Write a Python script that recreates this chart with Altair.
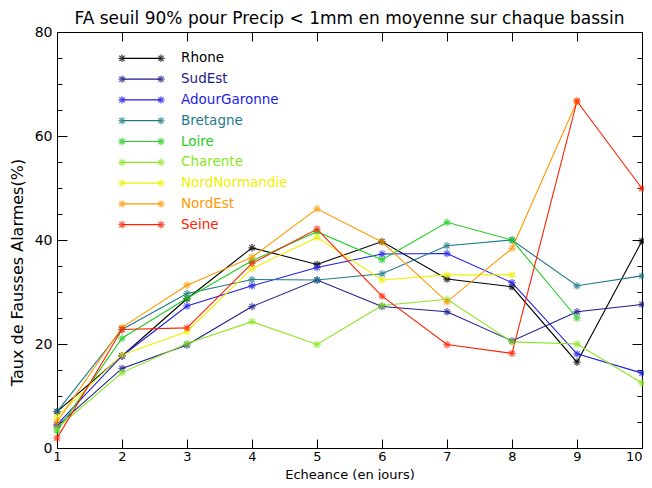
import altair as alt
import pandas as pd

# ---------------- data ----------------
names = ["Rhone", "SudEst", "AdourGaronne", "Bretagne", "Loire",
         "Charente", "NordNormandie", "NordEst", "Seine"]
colors = ["#000000", "#1c1c8c", "#1e1ee8", "#1f7a8a", "#22cc22",
          "#88e61c", "#f0f000", "#ff9a00", "#ff2000"]
echeance = [1, 2, 3, 4, 5, 6, 7, 8, 9, 10]
title_text = "FA seuil 90% pour Precip < 1mm en moyenne sur chaque bassin"

rhone = [7.0, 17.7, 28.7, 38.5, 35.3, 39.7, 32.5, 31.0, 16.5, 39.8]
sudest = [4.2, 15.3, 19.8, 27.2, 32.3, 27.2, 26.2, 20.6, 26.2, 27.6]
adour = [4.5, 17.7, 27.3, 31.2, 34.7, 37.3, 37.4, 31.8, 18.1, 14.4]
bretagne = [7.0, 22.8, 29.7, 32.4, 32.3, 33.5, 38.9, 40.0, 31.2, 33.1]
loire = [3.3, 21.1, 28.8, 36.0, 41.6, 36.2, 43.4, 40.0, 25.0, None]
charente = [3.8, 14.5, 20.1, 24.3, 19.9, 27.4, 28.6, 20.4, 20.0, 12.5]
nordnormandie = [6.0, 17.9, 22.4, 34.5, 40.5, 32.3, 33.3, 33.3, None, None]
nordest = [5.0, 23.2, 31.3, 36.7, 46.0, 39.6, 28.1, 38.4, 66.7, None]
seine = [1.9, 22.8, 23.1, 35.5, 42.1, 29.2, 19.9, 18.2, 66.7, 49.9]

series = [rhone, sudest, adour, bretagne, loire, charente,
          nordnormandie, nordest, seine]

rows = []
for k, (nm, vals) in enumerate(zip(names, series)):
    for xv, v in zip(echeance, vals):
        if v is not None:
            rows.append({"name": nm, "k": k, "x": xv, "v": v})
df = pd.DataFrame(rows)
leg = pd.DataFrame({"name": names, "idx": list(range(len(names)))})
ttl = pd.DataFrame({"t": [title_text]})

FONT = "DejaVu Sans"
W, H = 585, 416
ASTER = ("M-1,0L1,0M0,-1L0,1M-0.72,-0.72L0.72,0.72M-0.72,0.72L0.72,-0.72")

xs = alt.Scale(domain=[1, 10], nice=False, zero=False)
ys = alt.Scale(domain=[0, 80], nice=False, zero=False)
cs = alt.Scale(domain=names, range=colors)
color = alt.Color("name:N", scale=cs, legend=None)
ytick_cond = {"condition": {"test": "datum.value % 20 === 0", "value": 10}, "value": 5}
xlab_align = {"condition": {"test": "datum.value === 10", "value": "right"}, "value": "center"}
yvals_all = list(range(0, 81, 5))

base = alt.Chart(df)

# lines with main labelled axes
lines = base.mark_line(strokeWidth=1.1).encode(
    x=alt.X("x:Q", scale=xs, axis=alt.Axis(
        orient="bottom", values=echeance, ticks=False, tickSize=0, domain=False,
        labelFontSize=13, labelFont=FONT, labelColor="black", labelPadding=2,
        labelFlush=False, labelOverlap=False, labelAlign=xlab_align,
        title="Echeance (en jours)", titleFont=FONT, titleFontSize=13,
        titleFontWeight="normal", titleColor="black", titleY=30,
        titleBaseline="alphabetic")),
    y=alt.Y("v:Q", scale=ys, axis=alt.Axis(
        orient="left", values=[0, 20, 40, 60, 80], ticks=False, tickSize=0,
        domain=False, labelFontSize=14, labelFont=FONT, labelColor="black",
        labelPadding=5, labelFlush=False, labelOverlap=False,
        title="Taux de Fausses Alarmes(%)", titleFont=FONT, titleFontSize=16,
        titleFontWeight="normal", titleColor="black", titleX=-40, titleY=240,
        titleBaseline="middle")),
    color=color,
    order=alt.Order("x:Q"),
)

# asterisk markers + inward ticks on bottom and left
points = base.mark_point(shape=ASTER, filled=False, size=55, strokeWidth=1.3).encode(
    x=alt.X("x:Q", scale=xs, axis=alt.Axis(
        orient="top", offset=-H, values=echeance, labels=False, domain=False,
        tickSize=9, tickColor="black", title=None)),
    y=alt.Y("v:Q", scale=ys, axis=alt.Axis(
        orient="right", offset=-W, values=yvals_all, labels=False, domain=False,
        tickSize=ytick_cond, tickColor="black", title=None)),
    color=color,
)

# invisible carrier for inward ticks on top and right
ghost = base.mark_point(opacity=0).encode(
    x=alt.X("x:Q", scale=xs, axis=alt.Axis(
        orient="bottom", offset=-H, values=echeance, labels=False, domain=False,
        tickSize=9, tickColor="black", title=None)),
    y=alt.Y("v:Q", scale=ys, axis=alt.Axis(
        orient="left", offset=-W, values=yvals_all, labels=False, domain=False,
        tickSize=ytick_cond, tickColor="black", title=None)),
)

# in-plot legend
lb = alt.Chart(leg).transform_calculate(ly="26.3 + 20.8 * datum.idx")
ly = alt.Y("ly:Q", scale=None, axis=None)
leg_rule = lb.mark_rule(strokeWidth=1.2).encode(
    x=alt.value(65), x2=alt.value(104), y=ly, color=color)
leg_p1 = lb.mark_point(shape=ASTER, filled=False, size=55, strokeWidth=1.3).encode(
    x=alt.value(65), y=ly, color=color)
leg_p2 = lb.mark_point(shape=ASTER, filled=False, size=55, strokeWidth=1.3).encode(
    x=alt.value(104), y=ly, color=color)
leg_txt = lb.mark_text(align="left", baseline="middle", font=FONT, fontSize=13.5).encode(
    x=alt.value(124), y=ly, text="name:N", color=color)

# chart title drawn as a text mark above the plot
title_mark = alt.Chart(ttl).mark_text(
    align="center", baseline="alphabetic", font=FONT, fontSize=17, color="black"
).encode(x=alt.value(W / 2), y=alt.value(-8), text="t:N")

chart = alt.layer(lines, points, ghost, leg_rule, leg_p1, leg_p2, leg_txt,
                  title_mark).resolve_axis(
    x="independent", y="independent"
).properties(
    width=W, height=H,
    autosize=alt.AutoSizeParams(type="none"),
    padding={"left": 49, "top": 24, "right": 2, "bottom": 32},
    background="white",
).configure_view(stroke="black", strokeWidth=1).configure_axis(grid=False)

chart.save("out.html", embed_options={"renderer": "svg", "actions": False})
